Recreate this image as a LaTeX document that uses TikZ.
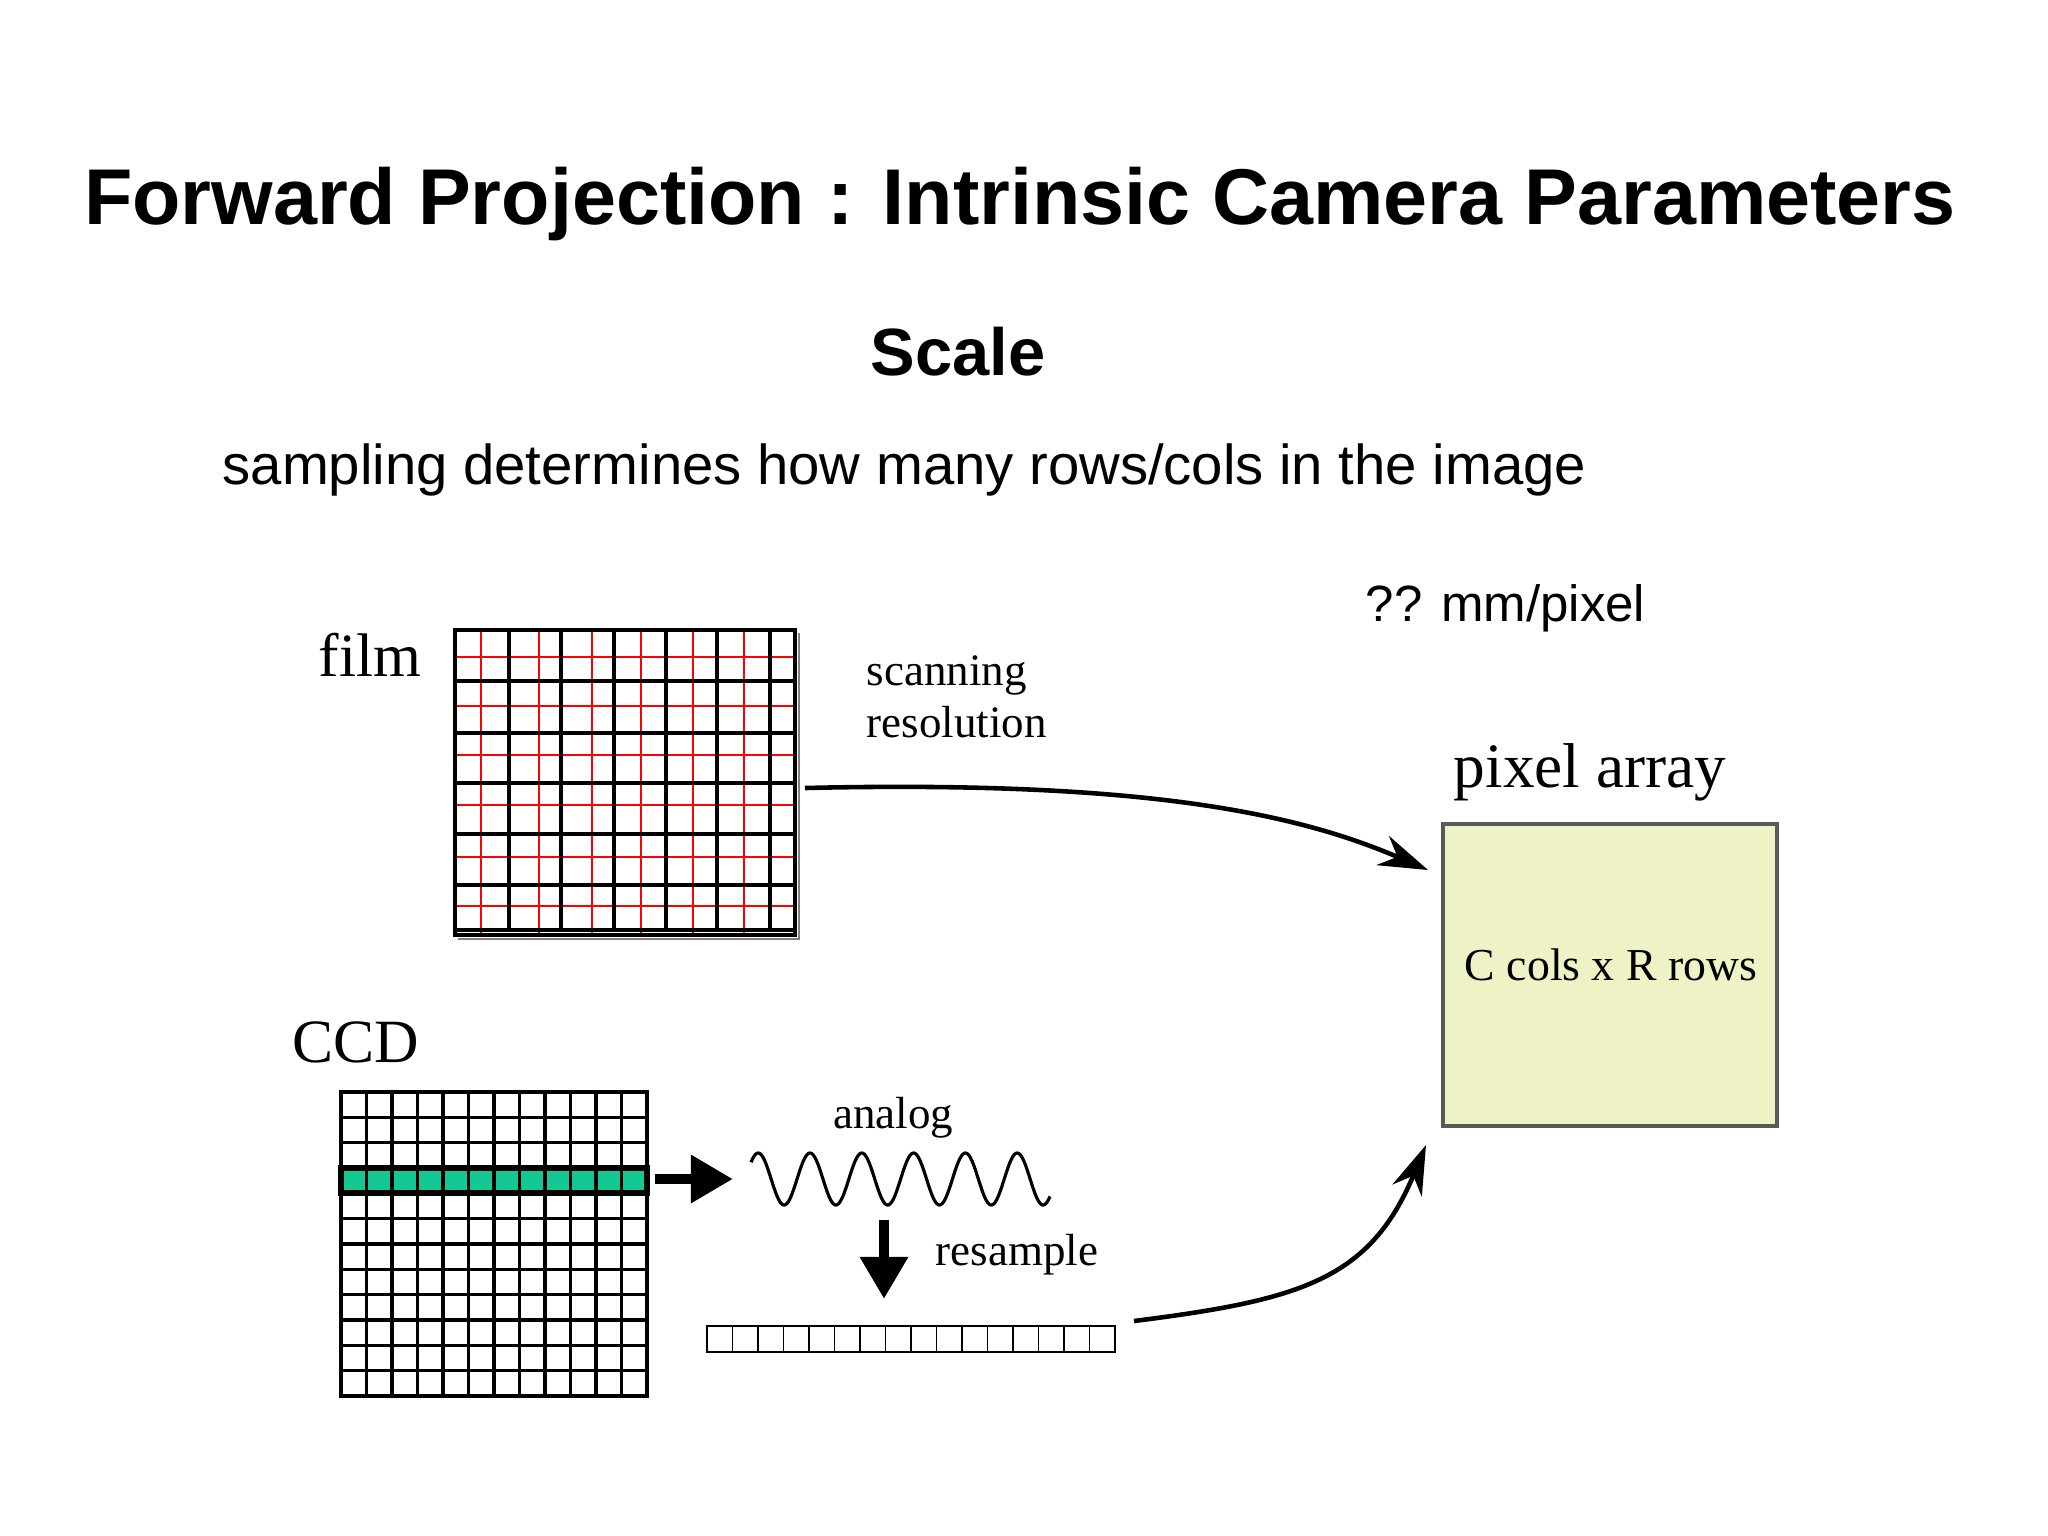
\documentclass[tikz,border=0pt]{standalone}
\usepackage{fontspec}
\setmainfont{Liberation Sans}
\newfontfamily\timesfont{Liberation Serif}
\usetikzlibrary{positioning, arrows.meta}
\definecolor{ccdgreen}{RGB}{20,200,150}
\definecolor{pixfill}{RGB}{238,242,196}

\begin{document}
\begin{tikzpicture}[x=0.01cm, y=-0.01cm,
    label/.style={font=\timesfont\fontsize{12.8}{15}\selectfont, inner sep=0pt, anchor=base west},
    biglabel/.style={font=\timesfont\fontsize{17.5}{20}\selectfont, inner sep=0pt},
    arrow/.style={-{Stealth[length=14pt,width=9pt]}, line width=1.3pt},
    fatarrow/.style={-{Triangle[length=12pt,width=13pt]}, line width=3pt}
]
\useasboundingbox (0,0) rectangle (2048,1536);

% titles
\node (title) at (1020,204) {\fontsize{22.5}{26}\selectfont\bfseries Forward Projection : Intrinsic Camera Parameters};
\node (scale) at (958,352) {\fontsize{19}{22}\selectfont\bfseries Scale};
\node[anchor=west, inner sep=0pt] (sampling) at (222,470) {\fontsize{16}{19}\selectfont sampling determines how many rows/cols in the image};
\node[anchor=west, inner sep=0pt] (mm) at (1365,608) {\fontsize{14.5}{18}\selectfont ?? mm/pixel};

% film
\node[biglabel] (filmlbl) at (370,655) {film};
\foreach \x in {481,539,592,641,693,744} \draw[red, line width=0.7pt] (\x,630) -- (\x,935);
\foreach \y in {657,706,755,805,857,906} \draw[red, line width=0.7pt] (455,\y) -- (795,\y);
\foreach \x in {509,561,614,666,717,770} \draw[line width=1.1pt] (\x,630) -- (\x,930);
\foreach \y in {681,733,783,834,885,930} \draw[line width=1.1pt] (455,\y) -- (795,\y);
\draw[line width=1.2pt] (455,630) rectangle (795,935);
\draw[gray] (458,939) -- (799,939) -- (799,633);
\coordinate (filmout) at (805,788);
\node[label] (scan) at (866,685) {scanning};
\node[label, below=15pt of scan.base west, anchor=base west] (res) {resolution};

% pixel array
\node[font=\timesfont\fontsize{18}{21}\selectfont, inner sep=0pt] (pixlbl) at (1590,772) {pixel array};
\node[draw=gray!70!black, fill=pixfill, line width=1pt, minimum width=3.34cm, minimum height=3.02cm, anchor=north west] (pix) at (1441,822) {};
\node[font=\timesfont\fontsize{13}{16}\selectfont] (crlbl) at (1611,965) {C cols x R rows};
\coordinate (pixin1) at (1428,870);
\coordinate (pixin2) at (1426,1145);
\draw[arrow] (filmout) .. controls (1150,780) and (1300,815) .. (pixin1);

% CCD
\node[biglabel] (ccdlbl) at (356,1042) {CCD};
\fill[ccdgreen] (341,1168) rectangle (647,1193);
\foreach \i in {1,...,11} \draw[line width=1pt] (341+\i*25.5,1092) -- (341+\i*25.5,1396);
\foreach \j in {1,...,11} \draw[line width=1pt] (341,1092+\j*25.33) -- (647,1092+\j*25.33);
\draw[line width=1.3pt] (341,1092) rectangle (647,1396);
\draw[line width=1.8pt] (341,1168) rectangle (647,1193);
\coordinate (ccdout) at (655,1179);

% analog signal
\node[label, anchor=base] (analog) at (893,1128) {analog};
\draw[samples=300, domain=0:299, line width=0.9pt] plot (\x+751,{1179-26*sin(\x*6.95+40)});
\coordinate (wavein) at (733,1179);
\draw[fatarrow] (ccdout) -- (wavein);

% resample
\coordinate (waveout) at (884,1220);
\coordinate (stripin) at (884,1299);
\draw[fatarrow] (waveout) -- (stripin);
\node[label] (resample) at (935,1265) {resample};
\foreach \i in {0,...,15} \draw (707+\i*25.5,1326) rectangle ++(25.5,26);
\coordinate (stripout) at (1134,1321);
\draw[arrow] (stripout) .. controls (1300,1300) and (1370,1280) .. (pixin2);
\end{tikzpicture}
\end{document}
